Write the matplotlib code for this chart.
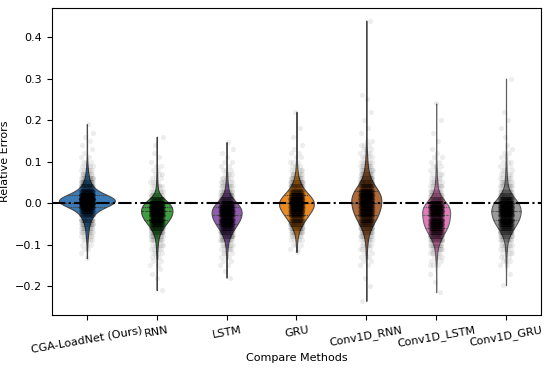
import numpy as np
import pandas as pd
import matplotlib
matplotlib.use("Agg")
import matplotlib.pyplot as plt
import seaborn as sns

methods = ["CGA-LoadNet (Ours)", "RNN", "LSTM", "GRU",
           "Conv1D_RNN", "Conv1D_LSTM", "Conv1D_GRU"]
colors = ["#3a7ab5", "#3f9e3f", "#8e5cab", "#ea8a22",
          "#b06a3a", "#e07cb9", "#9a9a9a"]
# drawn violin widths (fraction of a category slot)
widths = [0.80, 0.45, 0.43, 0.50, 0.43, 0.40, 0.42]

# relative error histogram bins, -0.15 ... 0.15 in steps of 0.01
bin_centers = np.round(np.arange(-0.15, 0.151, 0.01), 2)

# counts per bin, estimated from the point clouds / violin shapes
counts_cga = [0, 0, 0, 1, 2, 3, 5, 7, 10, 14, 20, 30, 45, 70, 120, 240,
              250, 130, 70, 40, 25, 16, 10, 7, 5, 3, 2, 1, 1, 0, 0]
counts_rnn = [2, 2, 3, 4, 5, 7, 10, 15, 25, 45, 70, 100, 120, 125, 125, 110,
              45, 15, 8, 6, 4, 3, 3, 2, 2, 1, 1, 1, 0, 0, 0]
counts_lstm = [2, 2, 3, 4, 6, 9, 14, 25, 40, 60, 85, 105, 115, 120, 115, 80,
               40, 22, 14, 10, 7, 5, 4, 3, 2, 2, 1, 1, 0, 0, 0]
counts_gru = [0, 0, 0, 0, 2, 3, 5, 8, 14, 25, 40, 60, 80, 100, 120, 130,
              115, 85, 55, 35, 22, 14, 9, 6, 4, 3, 2, 2, 1, 1, 0]
counts_crnn = [2, 2, 3, 3, 4, 6, 8, 12, 18, 28, 45, 65, 80, 90, 95, 100,
               105, 105, 85, 55, 35, 24, 16, 12, 9, 7, 5, 4, 3, 3, 2]
counts_clstm = [3, 3, 4, 6, 9, 14, 25, 40, 60, 75, 90, 92, 85, 100, 105, 75,
                35, 18, 12, 9, 7, 5, 4, 3, 3, 2, 2, 1, 1, 0, 0]
counts_cgru = [2, 3, 3, 4, 6, 8, 12, 20, 35, 60, 85, 100, 110, 115, 115, 105,
               70, 35, 18, 12, 9, 7, 5, 4, 3, 3, 2, 2, 1, 1, 0]

# sparse extreme points outside the histogram range
out_cga = [-0.133, 0.14, 0.15, 0.16, 0.17, 0.19]
out_rnn = [-0.21, -0.18, -0.17, -0.16, 0.14, 0.16]
out_lstm = [-0.18, -0.165, 0.13, 0.147]
out_gru = [-0.118, 0.16, 0.18, 0.22]
out_crnn = [-0.236, -0.2, -0.18, 0.17, 0.18, 0.2, 0.22, 0.25, 0.26, 0.44]
out_clstm = [-0.215, -0.19, -0.17, 0.15, 0.17, 0.2, 0.24]
out_cgru = [-0.198, -0.17, 0.16, 0.18, 0.2, 0.22, 0.3]

all_counts = [counts_cga, counts_rnn, counts_lstm, counts_gru,
              counts_crnn, counts_clstm, counts_cgru]
all_out = [out_cga, out_rnn, out_lstm, out_gru, out_crnn, out_clstm, out_cgru]

rows = []
for m, c, o in zip(methods, all_counts, all_out):
    vals = np.concatenate([np.repeat(bin_centers, c), o])
    rows.append(pd.DataFrame({"method": m, "err": vals}))
df = pd.concat(rows, ignore_index=True)

plt.rcParams["font.size"] = 8
fig = plt.figure(figsize=(5.5, 3.68), dpi=100)
ax = fig.add_axes([0.0945, 0.144, 0.889, 0.834])

# one call per method so each violin gets its own width
for m, col, w in zip(methods, colors, widths):
    sub = df[df["method"] == m]
    sns.violinplot(data=sub, x="method", y="err", order=methods,
                   color=col, saturation=1, cut=0, inner="quart",
                   linewidth=0.8, bw_adjust=1.3, width=w, ax=ax)

# jittered points on top
for i, m in enumerate(methods):
    v = df.loc[df["method"] == m, "err"].to_numpy()
    jit = ((np.arange(len(v)) * 0.618034) % 1 - 0.5) * 0.18
    ax.scatter(i + jit, v, s=14, color="k", alpha=0.07, linewidths=0, zorder=3)

ax.axhline(0, color="k", ls="-.", lw=1.5, zorder=4)

ax.set_xlim(-0.5, 6.5)
ax.set_ylim(-0.27, 0.47)
ax.set_yticks([-0.2, -0.1, 0.0, 0.1, 0.2, 0.3, 0.4])
ax.set_xlabel("Compare Methods", labelpad=-1)
ax.set_ylabel("Relative Errors")
plt.setp(ax.get_xticklabels(), rotation=10)

fig.savefig("out.png", dpi=100)
